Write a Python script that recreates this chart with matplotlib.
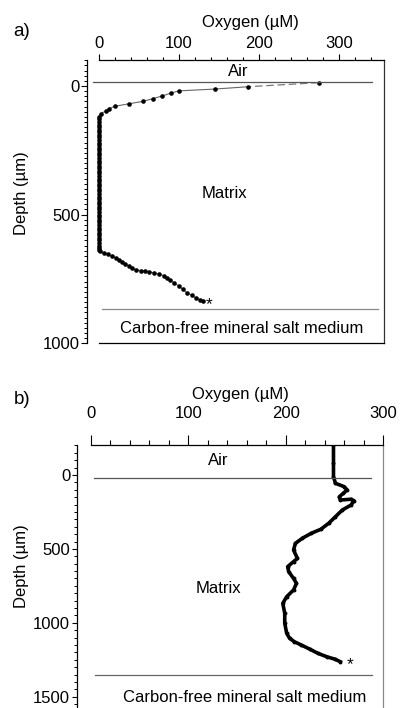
import matplotlib
matplotlib.use("Agg")
import matplotlib.pyplot as plt
from matplotlib.ticker import MultipleLocator

plt.rcParams['font.family'] = ['Liberation Sans', 'DejaVu Sans']
plt.rcParams['font.size'] = 12

# panel a: oxygen profile (uM) vs depth (um)
oxy_a = [275, 186, 145, 100, 90, 79, 68, 55, 38, 20, 13, 9, 3, 0,
         0, 0, 0, 0, 0, 0, 0, 0, 0, 0, 0, 0, 0, 0, 0, 0, 0, 0, 0, 0, 0, 0, 0, 0, 0, 0,
         0, 0, 0, 0, 0, 0, 0, 0, 0, 0, 0, 0, 0, 0, 0, 0, 0, 0, 0, 0, 0, 0, 0, 0, 0, 0,
         2, 6, 11, 17, 21, 25, 29, 33, 38, 42, 47, 53, 58, 63, 69, 75, 81, 85, 89, 94,
         100, 105, 110, 116, 121, 126, 130]
depth_a = [-13, 3, 12, 19, 28, 39, 49, 60, 69, 79, 88, 97, 107, 119,
           130, 140, 150, 160, 170, 180, 190, 200, 210, 220, 230, 240, 250, 260, 270, 280,
           290, 300, 310, 320, 330, 340, 350, 360, 370, 380, 390, 400, 410, 420, 430, 440,
           450, 460, 470, 480, 490, 500, 510, 520, 530, 540, 550, 560, 570, 580, 590, 600,
           610, 620, 630, 636,
           641, 648, 654, 662, 668, 676, 684, 692, 700, 707, 715, 718, 719, 722, 726, 731,
           737, 745, 754, 765, 777, 790, 803, 813, 823, 830, 836]

# panel b
oxy_b = [249, 249, 249, 251, 260, 263, 259, 255, 256, 267, 270, 267, 258, 251,
         244, 236, 226, 217, 210, 208, 212, 208, 202, 203, 208, 211, 208, 201, 197,
         199, 199, 201, 204, 209, 216, 225, 233, 242, 251, 256]
depth_b = [-203, -79, 11, 56, 79, 101, 124, 147, 169, 164, 174, 203, 237, 282,
           327, 367, 395, 428, 462, 507, 564, 586, 620, 654, 699, 733, 778, 823, 868,
           936, 1003, 1071, 1105, 1128, 1150, 1179, 1206, 1229, 1247, 1263]

W, H = 400, 708
fig = plt.figure(figsize=(W / 100, H / 100), dpi=100)


def px_axes(x0, x1, y0, y1):
    return fig.add_axes([x0 / W, 1 - y1 / H, (x1 - x0) / W, (y1 - y0) / H])


def style(ax, xmax, ybounds, xmaj_len, xpad, ymaj_len, ypad, ymin_step, right_col):
    ax.xaxis.set_ticks_position('top')
    ax.xaxis.set_label_position('top')
    ax.spines['top'].set_bounds(0, xmax)
    ax.spines['left'].set_bounds(*ybounds)
    ax.spines['right'].set_color(right_col)
    for s in ax.spines.values():
        s.set_linewidth(0.9)
    ax.xaxis.set_major_locator(MultipleLocator(100))
    ax.xaxis.set_minor_locator(MultipleLocator(20))
    ax.yaxis.set_major_locator(MultipleLocator(500))
    ax.yaxis.set_minor_locator(MultipleLocator(ymin_step))
    ax.tick_params(axis='x', which='major', direction='out', length=xmaj_len, width=0.8, pad=xpad)
    ax.tick_params(axis='x', which='minor', direction='out', length=xmaj_len / 2, width=0.8)
    ax.tick_params(axis='y', which='major', direction='out', length=ymaj_len, width=0.8, pad=ypad)
    ax.tick_params(axis='y', which='minor', direction='out', length=2, width=0.7)
    ax.tick_params(right=False, which='both')


# ---- panel a ----
ax1 = px_axes(86.7, 383.5, 60, 343.3)
ax1.set_xlim(-15, 356)
ax1.set_ylim(1000, -101)
style(ax1, 356, (-100, 1000), 4.5, 2, 4, 0.8, 20, '#333333')
ax1.spines['bottom'].set_bounds(0, 356)
ax1.set_xticks([0, 100, 200, 300])
ax1.set_yticks([0, 500, 1000])

ax1.plot(oxy_a[:2], depth_a[:2], color='#777777', lw=0.9, ls=(0, (6, 3)))
ax1.plot(oxy_a[1:], depth_a[1:], color='#666666', lw=0.8)
ax1.plot(oxy_a, depth_a, ls='none', marker='o', ms=3.3, color='black', mec='none')
ax1.annotate('*', xy=(138, 829), xytext=(0, -7), textcoords='offset points',
             ha='center', va='baseline', fontsize=12.5)

ax1.plot([-7, 342], [-15, -15], color='#555555', lw=0.9)
ax1.plot([4, 349], [867, 867], color='#888888', lw=0.9)
ax1.text(175, -58, 'Air', ha='center', va='center')
ax1.text(157, 416, 'Matrix', ha='center', va='center')
ax1.text(179, 944, 'Carbon-free mineral salt medium', ha='center', va='center')

# ---- panel b ----
ax2 = px_axes(77.1, 383.2, 445, 708)
ax2.set_xlim(-14, 300)
ax2.set_ylim(1576, -203)
style(ax2, 300, (-200, 1576), 7, 10, 3.5, 1.5, 50, '#888888')
ax2.spines['bottom'].set_visible(False)
ax2.set_xticks([0, 100, 200, 300])
ax2.set_yticks([0, 500, 1000, 1500])

ax2.plot(oxy_b, depth_b, color='black', lw=2.6, solid_joinstyle='round')
ax2.plot(oxy_b, depth_b, ls='none', marker='o', ms=2.8, color='black', mec='none')
ax2.annotate('*', xy=(266, 1250), xytext=(0, -7), textcoords='offset points',
             ha='center', va='baseline', fontsize=12.5)

ax2.plot([3, 287], [18, 18], color='#555555', lw=0.9)
ax2.plot([4, 289], [1353, 1353], color='#666666', lw=0.9)
ax2.text(131, -101, 'Air', ha='center', va='center')
ax2.text(131, 771, 'Matrix', ha='center', va='center')
ax2.text(158, 1502, 'Carbon-free mineral salt medium', ha='center', va='center')

# labels placed in pixel space
def ftext(x, y, s, **kw):
    fig.text(x / W, 1 - y / H, s, ha='center', va='center', **kw)


ftext(22, 32, 'a)', fontsize=13.5)
ftext(250, 22, 'Oxygen (µM)')
ftext(22, 193, 'Depth (µm)', rotation=90)
ftext(22, 400, 'b)', fontsize=13.5)
ftext(240, 394, 'Oxygen (µM)')
ftext(22, 566, 'Depth (µm)', rotation=90)

fig.savefig('out.png', dpi=100)
